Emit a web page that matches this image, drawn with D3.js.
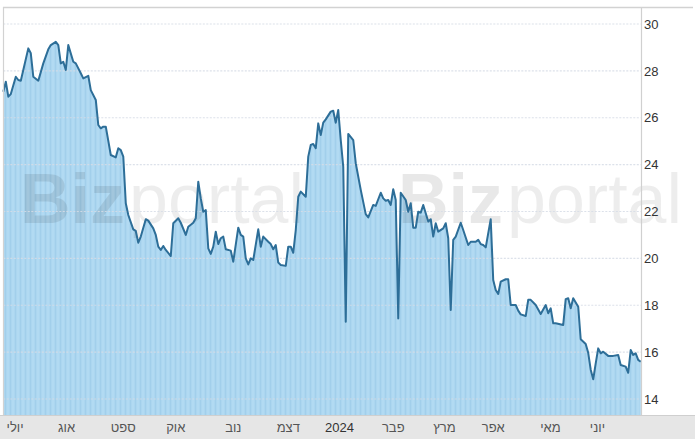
<!DOCTYPE html>
<html><head><meta charset="utf-8">
<script src="https://cdn.jsdelivr.net/npm/d3@7/dist/d3.min.js"></script>
<style>body{margin:0;background:#fff}</style>
</head><body><svg id="c" width="695" height="439"></svg>
<script>
// trading-day index of each read point
const days=[0,1,2,3,5,6,7,10,11,12,14,16,18,19,21,22,23,24,25,26,28,29,31,32,34,35,37,38,39,40,41,43,45,46,47,48,49,50,52,53,54,55,57,58,60,61,62,63,64,65,67,68,70,71,73,74,76,77,78,79,80,81,82,83,84,85,86,87,88,89,91,92,94,95,96,97,98,99,100,102,103,104,106,107,108,109,110,111,113,114,115,116,117,118,119,121,122,123,124,125,126,127,128,129,131,132,133,134,135,136,137,138,140,141,143,145,146,148,149,151,152,153,154,155,156,157,158,159,161,162,163,164,165,166,167,168,170,171,172,173,174,176,177,178,179,180,181,183,184,186,187,189,190,191,192,193,195,196,197,198,199,201,202,203,205,206,207,209,210,211,213,215,217,218,219,220,221,224,225,226,227,228,230,231,233,234,235,236,237,238,239,240,242,244,246,247,249,250,251,252,253,254,255];
const values=[27.11,27.54,26.90,27.01,27.75,27.61,27.58,28.96,28.75,27.75,27.58,28.32,28.92,29.10,29.24,29.10,28.32,28.39,28.04,29.10,28.39,28.32,27.90,27.68,27.79,27.18,26.76,25.69,25.55,25.62,25.62,24.41,24.31,24.70,24.62,24.34,22.35,21.85,21.24,21.17,20.67,20.93,21.67,21.61,21.28,21.00,20.50,20.36,20.53,20.36,20.10,21.50,21.71,21.52,21.00,21.35,21.52,21.71,23.27,22.56,21.99,22.06,20.43,20.19,20.50,21.14,20.61,20.86,20.93,20.39,20.33,19.86,21.31,21.00,20.93,20.00,19.74,20.00,19.93,21.24,20.50,20.93,20.71,20.61,20.39,20.57,19.82,19.72,19.68,20.50,20.50,20.24,21.21,22.63,22.85,22.63,24.34,24.84,24.88,24.70,25.76,25.26,25.79,25.93,26.26,26.30,25.79,26.33,25.05,23.91,17.30,25.31,25.05,24.06,22.92,21.89,21.75,22.28,22.24,22.80,22.56,22.46,22.49,22.28,22.95,22.49,17.44,22.80,22.49,21.99,22.35,21.31,21.31,21.99,21.95,22.28,21.57,21.67,20.93,21.50,21.14,21.28,21.50,20.86,17.80,20.79,20.93,21.52,21.21,20.57,20.71,20.71,20.79,20.61,20.57,20.47,21.67,19.08,18.65,18.48,19.01,19.11,19.11,18.01,18.01,17.77,17.61,17.54,18.23,18.23,18.01,17.63,18.01,17.66,17.87,17.23,17.23,17.16,18.26,18.30,17.87,18.30,17.94,16.55,16.35,15.97,15.25,14.84,15.52,16.16,15.95,16.02,15.84,15.84,15.88,15.45,15.38,15.12,16.09,15.88,15.95,15.67,15.59];
const yTicks=[14,16,18,20,22,24,26,28,30];
const monthLabels=["יולי","אוג","ספט","אוק","נוב","דצמ","2024","פבר","מרץ","אפר","מאי","יוני"];
const monthPos=[4.7,25.3,48,69,92,114,134.5,156,176.5,196,218.9,237.7];

const W=695,H=439;
const pLeft=3.3,pRight=640.7,pBottom=415;
const x=d3.scaleLinear().domain([0,255]).range([pLeft,pRight]);
const y=d3.scaleLinear().domain([14,30]).range([399,24]);
const data=days.map((d,i)=>({d,v:values[i]}));

const svg=d3.select("#c");
const defs=svg.append("defs");
const pat=defs.append("pattern").attr("id","stripes").attr("patternUnits","userSpaceOnUse")
  .attr("width",5).attr("height",4);
pat.append("rect").attr("width",5).attr("height",4).attr("fill","#acd6f0");
pat.append("rect").attr("x",0).attr("width",1).attr("height",4).attr("fill","#a2cfeb");
pat.append("rect").attr("x",2.5).attr("width",1).attr("height",4).attr("fill","#b8def4");

svg.append("rect").attr("width",W).attr("height",H).attr("fill","#fff");

const area=d3.area().x(p=>x(p.d)).y0(pBottom).y1(p=>y(p.v));
svg.append("path").datum(data).attr("d",area).attr("fill","url(#stripes)");

// watermark
[20,398].forEach(wx=>{
  const t=svg.append("text").attr("x",wx).attr("y",223).attr("font-family","Liberation Sans, Arial, sans-serif")
    .attr("font-size",70).attr("fill","#000");
  t.append("tspan").attr("font-weight","bold").attr("fill-opacity",0.09).text("Biz");
  t.append("tspan").attr("dx",4).attr("font-weight","normal").attr("fill-opacity",0.07).text("portal");
});

// gridlines
svg.append("g").selectAll("line").data(yTicks).join("line")
  .attr("x1",pLeft).attr("x2",pRight).attr("y1",t=>y(t)).attr("y2",t=>y(t))
  .attr("stroke","#d6dce6").attr("stroke-opacity",0.85).attr("stroke-width",1.2).attr("stroke-dasharray","2,1.5");

const line=d3.line().x(p=>x(p.d)).y(p=>y(p.v));
svg.append("path").datum(data).attr("d",line).attr("fill","none")
  .attr("stroke","#2d6e98").attr("stroke-width",2).attr("stroke-linejoin","round");

// frame
svg.append("line").attr("x1",3).attr("x2",693).attr("y1",7.5).attr("y2",7.5).attr("stroke","#d2d2d2").attr("stroke-width",1.5);
svg.append("line").attr("x1",3.5).attr("x2",3.5).attr("y1",7).attr("y2",pBottom).attr("stroke","#d2d2d2").attr("stroke-width",1.2);
svg.append("line").attr("x1",641.5).attr("x2",641.5).attr("y1",8).attr("y2",pBottom).attr("stroke","#d0d0d0").attr("stroke-width",1.2);

// x-axis band
svg.append("rect").attr("x",0).attr("y",pBottom).attr("width",W).attr("height",H-pBottom).attr("fill","#e6e6e6");
svg.append("line").attr("x1",0).attr("x2",W).attr("y1",pBottom+0.5).attr("y2",pBottom+0.5).attr("stroke","#cfcfcf");

svg.append("g").selectAll("text").data(monthLabels).join("text")
  .attr("x",(m,i)=>x(monthPos[i])).attr("y",432).attr("text-anchor","middle")
  .attr("font-family","Liberation Sans, Arial, sans-serif").attr("font-size",13)
  .attr("fill",m=>m==="2024"?"#333":"#555").text(m=>m);

// right y-axis labels
svg.append("g").selectAll("text").data(yTicks).join("text")
  .attr("x",644).attr("y",t=>y(t)).attr("dy","0.36em")
  .attr("font-family","Liberation Sans, Arial, sans-serif").attr("font-size",13)
  .attr("fill","#333").text(t=>t);
</script>
</body></html>
